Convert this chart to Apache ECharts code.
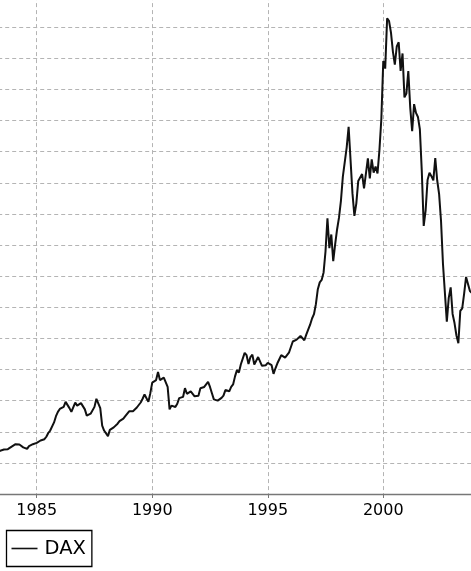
<!DOCTYPE html>
<html>
<head>
<meta charset="utf-8">
<script src="https://cdn.jsdelivr.net/npm/echarts@6/dist/echarts.min.js"></script>
<style>
html,body{margin:0;padding:0;background:#fff;}
#chart{width:471px;height:571px;}
</style>
</head>
<body>
<div id="chart"></div>
<script>
const years = [1983,1984,1985,1986,1987,1988,1989,1990,1991,1992,1993,1994,1995,1996,1997,1998,1999,2000,2001,2002,2003];
const monthlyCloses = [
  [620,640,670,690,695,705,715,700,720,740,760,775],
  [800,790,795,790,750,740,725,770,790,800,805,821],
  [840,860,870,880,920,980,1020,1050,1150,1250,1320,1366],
  [1370,1400,1480,1510,1380,1320,1300,1470,1420,1440,1460,1432],
  [1360,1260,1250,1290,1310,1400,1530,1550,1380,1100,1020,1000],
  [930,1030,1040,1070,1080,1130,1170,1150,1210,1250,1260,1328],
  [1320,1330,1360,1390,1420,1470,1530,1600,1590,1480,1620,1790],
  [1800,1830,1960,1830,1860,1870,1890,1720,1360,1420,1400,1398],
  [1450,1540,1530,1560,1700,1610,1640,1650,1620,1570,1550,1578],
  [1700,1730,1720,1760,1800,1720,1620,1520,1490,1500,1530,1545],
  [1580,1670,1650,1650,1720,1760,1890,1990,1950,2080,2050,2267],
  [2230,2090,2200,2240,2080,2060,2200,2180,2060,2080,2070,2107],
  [2090,2070,1930,2020,2100,2110,2230,2240,2190,2200,2270,2290],
  [2450,2470,2480,2510,2540,2550,2470,2560,2640,2720,2820,2889],
  [3050,3290,3400,3440,3560,3900,4430,3950,4170,3740,4010,4250],
  [4440,4710,5100,5110,5570,5900,5870,4830,4470,4670,5030,5000],
  [5140,4910,4884,5393,5069,5378,5163,5263,5150,5525,6029,6958],
  [6835,7644,7599,7414,7109,6898,7190,7259,6798,7078,6372,6433],
  [6795,6208,5829,6264,6123,6058,5861,5188,4308,4559,5045,5160],
  [5107,5039,5397,5041,4818,4383,3700,3712,2769,3152,3320,2893],
  [2747,2547,2424,2942,2983,3221,3487,3484,3260,3230]
];
const tickYears = [1985, 1990, 1995, 2000];
const seriesName = 'DAX';

const seriesData = [];
years.forEach((y, i) => {
  monthlyCloses[i].forEach((v, m) => {
    seriesData.push([y + (m + 1) / 12, v]);
  });
});

const chart = echarts.init(document.getElementById('chart'), null, {renderer: 'canvas'});
const font = 'DejaVu Sans';
chart.setOption({
  animation: false,
  backgroundColor: '#ffffff',
  grid: {left: -78.8, right: -27.8, top: -3.9, bottom: 77, containLabel: false, outerBoundsMode: 'none'},
  xAxis: {
    type: 'value',
    min: 1980, max: 2005, interval: 5,
    axisLine: {show: true, onZero: false, lineStyle: {color: '#777777', width: 1.3}},
    axisTick: {show: true, length: 4, lineStyle: {color: '#777777', width: 1}},
    axisLabel: {
      color: '#000000', fontSize: 16, fontFamily: font, margin: 9,
      formatter: v => tickYears.indexOf(v) >= 0 ? String(v) : ''
    },
    splitLine: {show: true, lineStyle: {color: '#b4b4b4', width: 1, type: [4, 3]}}
  },
  yAxis: {
    type: 'value',
    min: 0, max: 8000, interval: 500,
    axisLine: {show: false},
    axisTick: {show: false},
    axisLabel: {show: false},
    splitLine: {show: true, lineStyle: {color: '#b4b4b4', width: 1, type: [4, 3]}}
  },
  legend: {
    show: true,
    left: 6.5, top: 530.5,
    orient: 'horizontal',
    data: [seriesName],
    icon: 'path://M0,0 L26,0 L26,1.6 L0,1.6 Z',
    itemWidth: 26, itemHeight: 20,
    itemGap: 0,
    padding: [8, 6, 8, 5],
    borderColor: '#000000', borderWidth: 1.3, borderRadius: 0,
    backgroundColor: '#ffffff',
    itemStyle: {color: '#111111'},
    textStyle: {color: '#000000', fontSize: 19.5, fontFamily: font, padding: [0, 0, 0, 2]}
  },
  series: [{
    name: seriesName,
    type: 'line',
    data: seriesData,
    symbol: 'none',
    showSymbol: false,
    smooth: false,
    lineStyle: {color: '#111111', width: 2},
    itemStyle: {color: '#111111'}
  }]
});
</script>
</body>
</html>
